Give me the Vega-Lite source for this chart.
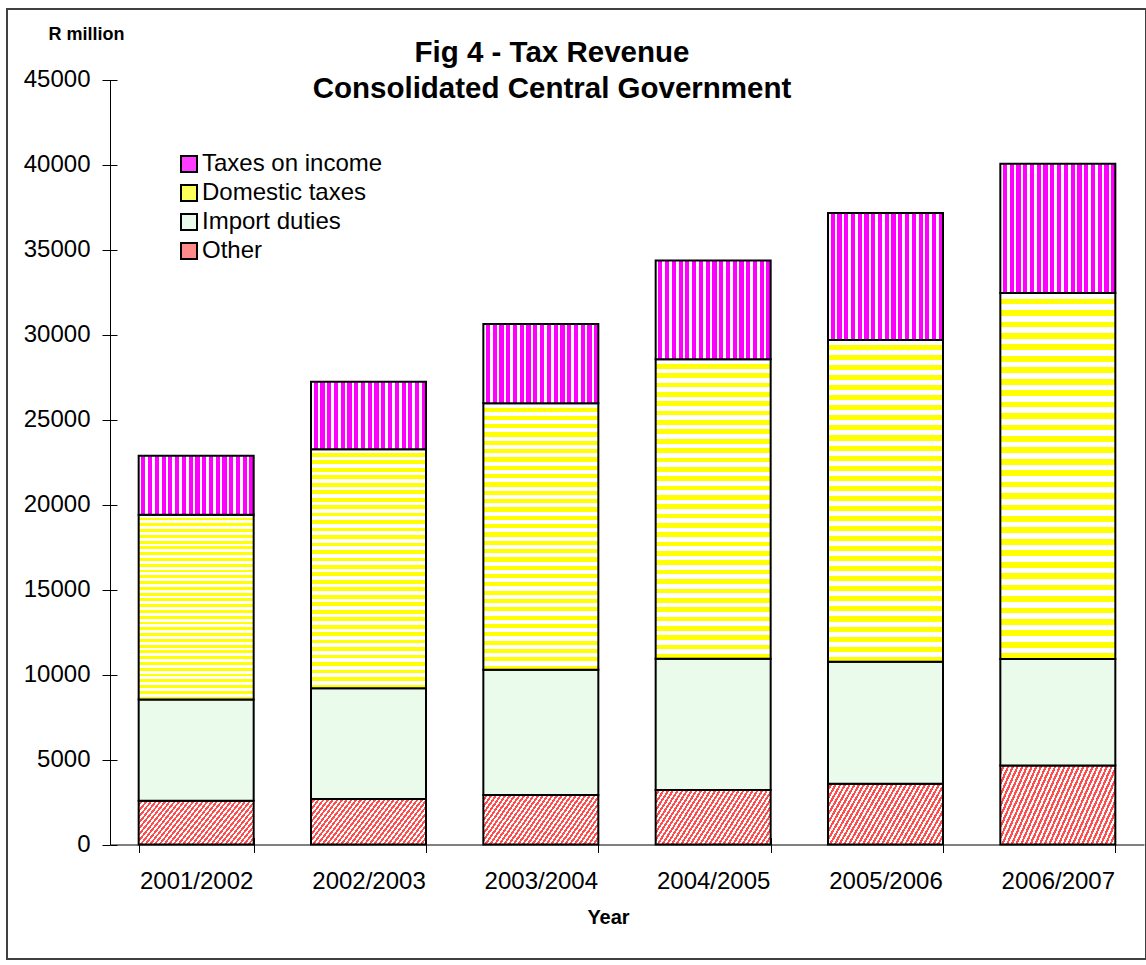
{
  "$schema": "https://vega.github.io/schema/vega-lite/v6.json",
  "autosize": {"type": "none"},
  "padding": {"left": 7, "top": 9, "right": 0, "bottom": 6},
  "width": 1139,
  "height": 950,
  "background": "white",
  "config": {
    "font": "Liberation Sans",
    "view": {"stroke": "#404040", "strokeWidth": 2}
  },
  "title": {
    "text": ["Fig 4 - Tax Revenue", "Consolidated Central Government"],
    "fontSize": 29.5,
    "fontWeight": "bold",
    "font": "Liberation Sans",
    "color": "black",
    "lineHeight": 36,
    "anchor": "middle",
    "frame": "group",
    "dx": -24.5,
    "offset": -95
  },
  "data": {
    "values": [
      {"year": "2001/2002", "type": "Other", "value": 2570},
      {"year": "2001/2002", "type": "Import duties", "value": 5960},
      {"year": "2001/2002", "type": "Domestic taxes", "value": 10870},
      {"year": "2001/2002", "type": "Taxes on income", "value": 3470},
      {"year": "2002/2003", "type": "Other", "value": 2680},
      {"year": "2002/2003", "type": "Import duties", "value": 6510},
      {"year": "2002/2003", "type": "Domestic taxes", "value": 14060},
      {"year": "2002/2003", "type": "Taxes on income", "value": 3970},
      {"year": "2003/2004", "type": "Other", "value": 2910},
      {"year": "2003/2004", "type": "Import duties", "value": 7370},
      {"year": "2003/2004", "type": "Domestic taxes", "value": 15670},
      {"year": "2003/2004", "type": "Taxes on income", "value": 4670},
      {"year": "2004/2005", "type": "Other", "value": 3210},
      {"year": "2004/2005", "type": "Import duties", "value": 7720},
      {"year": "2004/2005", "type": "Domestic taxes", "value": 17610},
      {"year": "2004/2005", "type": "Taxes on income", "value": 5820},
      {"year": "2005/2006", "type": "Other", "value": 3580},
      {"year": "2005/2006", "type": "Import duties", "value": 7170},
      {"year": "2005/2006", "type": "Domestic taxes", "value": 18930},
      {"year": "2005/2006", "type": "Taxes on income", "value": 7470},
      {"year": "2006/2007", "type": "Other", "value": 4640},
      {"year": "2006/2007", "type": "Import duties", "value": 6270},
      {"year": "2006/2007", "type": "Domestic taxes", "value": 21530},
      {"year": "2006/2007", "type": "Taxes on income", "value": 7610}
    ]
  },
  "transform": [
    {"calculate": "indexof(['Other', 'Import duties', 'Domestic taxes', 'Taxes on income'], datum.type)", "as": "stackOrder"}
  ],
  "resolve": {"axis": {"x": "independent", "y": "independent"}},
  "layer": [
    {
      "mark": {"type": "bar", "stroke": "black", "strokeWidth": 2},
      "encoding": {
        "x": {
          "field": "year",
          "type": "nominal",
          "sort": null,
          "scale": {"range": [103, 1137], "paddingInner": 0.3327, "paddingOuter": 0.1664},
          "axis": {
            "orient": "bottom",
            "offset": -114.5,
            "tickBand": "extent",
            "tickSize": 8,
            "tickColor": "black",
            "domainColor": "black",
            "labelAngle": 0,
            "labelFontSize": 24,
            "labelColor": "black",
            "labelPadding": 17,
            "title": "Year",
            "titleX": 601,
            "titleY": 72.5,
            "titleAlign": "center",
            "titleBaseline": "middle",
            "titleFontSize": 20,
            "titleFontWeight": "bold",
            "titleColor": "black"
          }
        },
        "y": {
          "field": "value",
          "type": "quantitative",
          "stack": "zero",
          "scale": {"domain": [0, 45000], "range": [835.5, 70.5], "nice": false},
          "axis": {
            "orient": "left",
            "offset": -103,
            "values": [0, 5000, 10000, 15000, 20000, 25000, 30000, 35000, 40000, 45000],
            "format": "d",
            "grid": false,
            "tickSize": 8,
            "tickColor": "black",
            "domainColor": "black",
            "labelFontSize": 24,
            "labelColor": "black",
            "labelPadding": 12,
            "title": "R million",
            "titleAngle": 0,
            "titleX": -24,
            "titleY": 25,
            "titleAlign": "center",
            "titleBaseline": "middle",
            "titleFontSize": 18,
            "titleFontWeight": "bold",
            "titleColor": "black"
          }
        },
        "order": {"field": "stackOrder", "type": "quantitative", "sort": "ascending"},
        "fill": {
          "field": "type",
          "type": "nominal",
          "sort": ["Other", "Import duties", "Domestic taxes", "Taxes on income"],
          "scale": {
            "domain": ["Other", "Import duties", "Domestic taxes", "Taxes on income"],
            "range": ["#ff8a8a", "#ebfbeb", "#ffff5a", "#ff3dff"]
          },
          "legend": {
            "title": null,
            "values": ["Taxes on income", "Domestic taxes", "Import duties", "Other"],
            "orient": "none",
            "legendX": 170,
            "legendY": 143,
            "padding": 0,
            "symbolType": "square",
            "symbolSize": 256,
            "symbolStrokeColor": "black",
            "symbolStrokeWidth": 2,
            "labelFontSize": 24,
            "labelColor": "black",
            "labelOffset": 1,
            "labelLimit": 500,
            "rowPadding": 5
          },
          "condition": [
            {
              "test": "datum.type === 'Taxes on income'",
              "value": {
                "gradient": "linear", "x1": 0, "y1": 0, "x2": 1, "y2": 0,
                "stops": [
                  {"offset": 0, "color": "#ffffff"}, {"offset": 0.0224, "color": "#ffffff"}, {"offset": 0.0224, "color": "#ff00ff"}, {"offset": 0.0588, "color": "#ff00ff"},
                  {"offset": 0.0588, "color": "#ffffff"}, {"offset": 0.0812, "color": "#ffffff"}, {"offset": 0.0812, "color": "#ff00ff"}, {"offset": 0.1176, "color": "#ff00ff"},
                  {"offset": 0.1176, "color": "#ffffff"}, {"offset": 0.1400, "color": "#ffffff"}, {"offset": 0.1400, "color": "#ff00ff"}, {"offset": 0.1765, "color": "#ff00ff"},
                  {"offset": 0.1765, "color": "#ffffff"}, {"offset": 0.1988, "color": "#ffffff"}, {"offset": 0.1988, "color": "#ff00ff"}, {"offset": 0.2353, "color": "#ff00ff"},
                  {"offset": 0.2353, "color": "#ffffff"}, {"offset": 0.2576, "color": "#ffffff"}, {"offset": 0.2576, "color": "#ff00ff"}, {"offset": 0.2941, "color": "#ff00ff"},
                  {"offset": 0.2941, "color": "#ffffff"}, {"offset": 0.3165, "color": "#ffffff"}, {"offset": 0.3165, "color": "#ff00ff"}, {"offset": 0.3529, "color": "#ff00ff"},
                  {"offset": 0.3529, "color": "#ffffff"}, {"offset": 0.3753, "color": "#ffffff"}, {"offset": 0.3753, "color": "#ff00ff"}, {"offset": 0.4118, "color": "#ff00ff"},
                  {"offset": 0.4118, "color": "#ffffff"}, {"offset": 0.4341, "color": "#ffffff"}, {"offset": 0.4341, "color": "#ff00ff"}, {"offset": 0.4706, "color": "#ff00ff"},
                  {"offset": 0.4706, "color": "#ffffff"}, {"offset": 0.4929, "color": "#ffffff"}, {"offset": 0.4929, "color": "#ff00ff"}, {"offset": 0.5294, "color": "#ff00ff"},
                  {"offset": 0.5294, "color": "#ffffff"}, {"offset": 0.5518, "color": "#ffffff"}, {"offset": 0.5518, "color": "#ff00ff"}, {"offset": 0.5882, "color": "#ff00ff"},
                  {"offset": 0.5882, "color": "#ffffff"}, {"offset": 0.6106, "color": "#ffffff"}, {"offset": 0.6106, "color": "#ff00ff"}, {"offset": 0.6471, "color": "#ff00ff"},
                  {"offset": 0.6471, "color": "#ffffff"}, {"offset": 0.6694, "color": "#ffffff"}, {"offset": 0.6694, "color": "#ff00ff"}, {"offset": 0.7059, "color": "#ff00ff"},
                  {"offset": 0.7059, "color": "#ffffff"}, {"offset": 0.7282, "color": "#ffffff"}, {"offset": 0.7282, "color": "#ff00ff"}, {"offset": 0.7647, "color": "#ff00ff"},
                  {"offset": 0.7647, "color": "#ffffff"}, {"offset": 0.7871, "color": "#ffffff"}, {"offset": 0.7871, "color": "#ff00ff"}, {"offset": 0.8235, "color": "#ff00ff"},
                  {"offset": 0.8235, "color": "#ffffff"}, {"offset": 0.8459, "color": "#ffffff"}, {"offset": 0.8459, "color": "#ff00ff"}, {"offset": 0.8824, "color": "#ff00ff"},
                  {"offset": 0.8824, "color": "#ffffff"}, {"offset": 0.9047, "color": "#ffffff"}, {"offset": 0.9047, "color": "#ff00ff"}, {"offset": 0.9412, "color": "#ff00ff"},
                  {"offset": 0.9412, "color": "#ffffff"}, {"offset": 0.9635, "color": "#ffffff"}, {"offset": 0.9635, "color": "#ff00ff"}, {"offset": 1, "color": "#ff00ff"}
                ]
              }
            },
            {
              "test": "datum.type === 'Domestic taxes'",
              "value": {
                "gradient": "linear", "x1": 0, "y1": 0, "x2": 0, "y2": 1,
                "stops": [
                  {"offset": 0, "color": "#ffffff"}, {"offset": 0.015625, "color": "#ffffff"}, {"offset": 0.015625, "color": "#ffff00"},
                  {"offset": 0.03125, "color": "#ffff00"}, {"offset": 0.03125, "color": "#ffffff"}, {"offset": 0.046875, "color": "#ffffff"}, {"offset": 0.046875, "color": "#ffff00"},
                  {"offset": 0.0625, "color": "#ffff00"}, {"offset": 0.0625, "color": "#ffffff"}, {"offset": 0.078125, "color": "#ffffff"}, {"offset": 0.078125, "color": "#ffff00"},
                  {"offset": 0.09375, "color": "#ffff00"}, {"offset": 0.09375, "color": "#ffffff"}, {"offset": 0.109375, "color": "#ffffff"}, {"offset": 0.109375, "color": "#ffff00"},
                  {"offset": 0.125, "color": "#ffff00"}, {"offset": 0.125, "color": "#ffffff"}, {"offset": 0.140625, "color": "#ffffff"}, {"offset": 0.140625, "color": "#ffff00"},
                  {"offset": 0.15625, "color": "#ffff00"}, {"offset": 0.15625, "color": "#ffffff"}, {"offset": 0.171875, "color": "#ffffff"}, {"offset": 0.171875, "color": "#ffff00"},
                  {"offset": 0.1875, "color": "#ffff00"}, {"offset": 0.1875, "color": "#ffffff"}, {"offset": 0.203125, "color": "#ffffff"}, {"offset": 0.203125, "color": "#ffff00"},
                  {"offset": 0.21875, "color": "#ffff00"}, {"offset": 0.21875, "color": "#ffffff"}, {"offset": 0.234375, "color": "#ffffff"}, {"offset": 0.234375, "color": "#ffff00"},
                  {"offset": 0.25, "color": "#ffff00"}, {"offset": 0.25, "color": "#ffffff"}, {"offset": 0.265625, "color": "#ffffff"}, {"offset": 0.265625, "color": "#ffff00"},
                  {"offset": 0.28125, "color": "#ffff00"}, {"offset": 0.28125, "color": "#ffffff"}, {"offset": 0.296875, "color": "#ffffff"}, {"offset": 0.296875, "color": "#ffff00"},
                  {"offset": 0.3125, "color": "#ffff00"}, {"offset": 0.3125, "color": "#ffffff"}, {"offset": 0.328125, "color": "#ffffff"}, {"offset": 0.328125, "color": "#ffff00"},
                  {"offset": 0.34375, "color": "#ffff00"}, {"offset": 0.34375, "color": "#ffffff"}, {"offset": 0.359375, "color": "#ffffff"}, {"offset": 0.359375, "color": "#ffff00"},
                  {"offset": 0.375, "color": "#ffff00"}, {"offset": 0.375, "color": "#ffffff"}, {"offset": 0.390625, "color": "#ffffff"}, {"offset": 0.390625, "color": "#ffff00"},
                  {"offset": 0.40625, "color": "#ffff00"}, {"offset": 0.40625, "color": "#ffffff"}, {"offset": 0.421875, "color": "#ffffff"}, {"offset": 0.421875, "color": "#ffff00"},
                  {"offset": 0.4375, "color": "#ffff00"}, {"offset": 0.4375, "color": "#ffffff"}, {"offset": 0.453125, "color": "#ffffff"}, {"offset": 0.453125, "color": "#ffff00"},
                  {"offset": 0.46875, "color": "#ffff00"}, {"offset": 0.46875, "color": "#ffffff"}, {"offset": 0.484375, "color": "#ffffff"}, {"offset": 0.484375, "color": "#ffff00"},
                  {"offset": 0.5, "color": "#ffff00"}, {"offset": 0.5, "color": "#ffffff"}, {"offset": 0.515625, "color": "#ffffff"}, {"offset": 0.515625, "color": "#ffff00"},
                  {"offset": 0.53125, "color": "#ffff00"}, {"offset": 0.53125, "color": "#ffffff"}, {"offset": 0.546875, "color": "#ffffff"}, {"offset": 0.546875, "color": "#ffff00"},
                  {"offset": 0.5625, "color": "#ffff00"}, {"offset": 0.5625, "color": "#ffffff"}, {"offset": 0.578125, "color": "#ffffff"}, {"offset": 0.578125, "color": "#ffff00"},
                  {"offset": 0.59375, "color": "#ffff00"}, {"offset": 0.59375, "color": "#ffffff"}, {"offset": 0.609375, "color": "#ffffff"}, {"offset": 0.609375, "color": "#ffff00"},
                  {"offset": 0.625, "color": "#ffff00"}, {"offset": 0.625, "color": "#ffffff"}, {"offset": 0.640625, "color": "#ffffff"}, {"offset": 0.640625, "color": "#ffff00"},
                  {"offset": 0.65625, "color": "#ffff00"}, {"offset": 0.65625, "color": "#ffffff"}, {"offset": 0.671875, "color": "#ffffff"}, {"offset": 0.671875, "color": "#ffff00"},
                  {"offset": 0.6875, "color": "#ffff00"}, {"offset": 0.6875, "color": "#ffffff"}, {"offset": 0.703125, "color": "#ffffff"}, {"offset": 0.703125, "color": "#ffff00"},
                  {"offset": 0.71875, "color": "#ffff00"}, {"offset": 0.71875, "color": "#ffffff"}, {"offset": 0.734375, "color": "#ffffff"}, {"offset": 0.734375, "color": "#ffff00"},
                  {"offset": 0.75, "color": "#ffff00"}, {"offset": 0.75, "color": "#ffffff"}, {"offset": 0.765625, "color": "#ffffff"}, {"offset": 0.765625, "color": "#ffff00"},
                  {"offset": 0.78125, "color": "#ffff00"}, {"offset": 0.78125, "color": "#ffffff"}, {"offset": 0.796875, "color": "#ffffff"}, {"offset": 0.796875, "color": "#ffff00"},
                  {"offset": 0.8125, "color": "#ffff00"}, {"offset": 0.8125, "color": "#ffffff"}, {"offset": 0.828125, "color": "#ffffff"}, {"offset": 0.828125, "color": "#ffff00"},
                  {"offset": 0.84375, "color": "#ffff00"}, {"offset": 0.84375, "color": "#ffffff"}, {"offset": 0.859375, "color": "#ffffff"}, {"offset": 0.859375, "color": "#ffff00"},
                  {"offset": 0.875, "color": "#ffff00"}, {"offset": 0.875, "color": "#ffffff"}, {"offset": 0.890625, "color": "#ffffff"}, {"offset": 0.890625, "color": "#ffff00"},
                  {"offset": 0.90625, "color": "#ffff00"}, {"offset": 0.90625, "color": "#ffffff"}, {"offset": 0.921875, "color": "#ffffff"}, {"offset": 0.921875, "color": "#ffff00"},
                  {"offset": 0.9375, "color": "#ffff00"}, {"offset": 0.9375, "color": "#ffffff"}, {"offset": 0.953125, "color": "#ffffff"}, {"offset": 0.953125, "color": "#ffff00"},
                  {"offset": 0.96875, "color": "#ffff00"}, {"offset": 0.96875, "color": "#ffffff"}, {"offset": 0.984375, "color": "#ffffff"}, {"offset": 0.984375, "color": "#ffff00"},
                  {"offset": 1, "color": "#ffff00"}
                ]
              }
            },
            {
              "test": "datum.type === 'Other'",
              "value": {
                "gradient": "linear", "x1": 0, "y1": 0, "x2": 1.2, "y2": 0.36,
                "stops": [
                  {"offset": 0, "color": "#ffffff"}, {"offset": 0.015625, "color": "#ffffff"}, {"offset": 0.015625, "color": "#ff4d4d"},
                  {"offset": 0.03125, "color": "#ff4d4d"}, {"offset": 0.03125, "color": "#ffffff"}, {"offset": 0.046875, "color": "#ffffff"}, {"offset": 0.046875, "color": "#ff4d4d"},
                  {"offset": 0.0625, "color": "#ff4d4d"}, {"offset": 0.0625, "color": "#ffffff"}, {"offset": 0.078125, "color": "#ffffff"}, {"offset": 0.078125, "color": "#ff4d4d"},
                  {"offset": 0.09375, "color": "#ff4d4d"}, {"offset": 0.09375, "color": "#ffffff"}, {"offset": 0.109375, "color": "#ffffff"}, {"offset": 0.109375, "color": "#ff4d4d"},
                  {"offset": 0.125, "color": "#ff4d4d"}, {"offset": 0.125, "color": "#ffffff"}, {"offset": 0.140625, "color": "#ffffff"}, {"offset": 0.140625, "color": "#ff4d4d"},
                  {"offset": 0.15625, "color": "#ff4d4d"}, {"offset": 0.15625, "color": "#ffffff"}, {"offset": 0.171875, "color": "#ffffff"}, {"offset": 0.171875, "color": "#ff4d4d"},
                  {"offset": 0.1875, "color": "#ff4d4d"}, {"offset": 0.1875, "color": "#ffffff"}, {"offset": 0.203125, "color": "#ffffff"}, {"offset": 0.203125, "color": "#ff4d4d"},
                  {"offset": 0.21875, "color": "#ff4d4d"}, {"offset": 0.21875, "color": "#ffffff"}, {"offset": 0.234375, "color": "#ffffff"}, {"offset": 0.234375, "color": "#ff4d4d"},
                  {"offset": 0.25, "color": "#ff4d4d"}, {"offset": 0.25, "color": "#ffffff"}, {"offset": 0.265625, "color": "#ffffff"}, {"offset": 0.265625, "color": "#ff4d4d"},
                  {"offset": 0.28125, "color": "#ff4d4d"}, {"offset": 0.28125, "color": "#ffffff"}, {"offset": 0.296875, "color": "#ffffff"}, {"offset": 0.296875, "color": "#ff4d4d"},
                  {"offset": 0.3125, "color": "#ff4d4d"}, {"offset": 0.3125, "color": "#ffffff"}, {"offset": 0.328125, "color": "#ffffff"}, {"offset": 0.328125, "color": "#ff4d4d"},
                  {"offset": 0.34375, "color": "#ff4d4d"}, {"offset": 0.34375, "color": "#ffffff"}, {"offset": 0.359375, "color": "#ffffff"}, {"offset": 0.359375, "color": "#ff4d4d"},
                  {"offset": 0.375, "color": "#ff4d4d"}, {"offset": 0.375, "color": "#ffffff"}, {"offset": 0.390625, "color": "#ffffff"}, {"offset": 0.390625, "color": "#ff4d4d"},
                  {"offset": 0.40625, "color": "#ff4d4d"}, {"offset": 0.40625, "color": "#ffffff"}, {"offset": 0.421875, "color": "#ffffff"}, {"offset": 0.421875, "color": "#ff4d4d"},
                  {"offset": 0.4375, "color": "#ff4d4d"}, {"offset": 0.4375, "color": "#ffffff"}, {"offset": 0.453125, "color": "#ffffff"}, {"offset": 0.453125, "color": "#ff4d4d"},
                  {"offset": 0.46875, "color": "#ff4d4d"}, {"offset": 0.46875, "color": "#ffffff"}, {"offset": 0.484375, "color": "#ffffff"}, {"offset": 0.484375, "color": "#ff4d4d"},
                  {"offset": 0.5, "color": "#ff4d4d"}, {"offset": 0.5, "color": "#ffffff"}, {"offset": 0.515625, "color": "#ffffff"}, {"offset": 0.515625, "color": "#ff4d4d"},
                  {"offset": 0.53125, "color": "#ff4d4d"}, {"offset": 0.53125, "color": "#ffffff"}, {"offset": 0.546875, "color": "#ffffff"}, {"offset": 0.546875, "color": "#ff4d4d"},
                  {"offset": 0.5625, "color": "#ff4d4d"}, {"offset": 0.5625, "color": "#ffffff"}, {"offset": 0.578125, "color": "#ffffff"}, {"offset": 0.578125, "color": "#ff4d4d"},
                  {"offset": 0.59375, "color": "#ff4d4d"}, {"offset": 0.59375, "color": "#ffffff"}, {"offset": 0.609375, "color": "#ffffff"}, {"offset": 0.609375, "color": "#ff4d4d"},
                  {"offset": 0.625, "color": "#ff4d4d"}, {"offset": 0.625, "color": "#ffffff"}, {"offset": 0.640625, "color": "#ffffff"}, {"offset": 0.640625, "color": "#ff4d4d"},
                  {"offset": 0.65625, "color": "#ff4d4d"}, {"offset": 0.65625, "color": "#ffffff"}, {"offset": 0.671875, "color": "#ffffff"}, {"offset": 0.671875, "color": "#ff4d4d"},
                  {"offset": 0.6875, "color": "#ff4d4d"}, {"offset": 0.6875, "color": "#ffffff"}, {"offset": 0.703125, "color": "#ffffff"}, {"offset": 0.703125, "color": "#ff4d4d"},
                  {"offset": 0.71875, "color": "#ff4d4d"}, {"offset": 0.71875, "color": "#ffffff"}, {"offset": 0.734375, "color": "#ffffff"}, {"offset": 0.734375, "color": "#ff4d4d"},
                  {"offset": 0.75, "color": "#ff4d4d"}, {"offset": 0.75, "color": "#ffffff"}, {"offset": 0.765625, "color": "#ffffff"}, {"offset": 0.765625, "color": "#ff4d4d"},
                  {"offset": 0.78125, "color": "#ff4d4d"}, {"offset": 0.78125, "color": "#ffffff"}, {"offset": 0.796875, "color": "#ffffff"}, {"offset": 0.796875, "color": "#ff4d4d"},
                  {"offset": 0.8125, "color": "#ff4d4d"}, {"offset": 0.8125, "color": "#ffffff"}, {"offset": 0.828125, "color": "#ffffff"}, {"offset": 0.828125, "color": "#ff4d4d"},
                  {"offset": 0.84375, "color": "#ff4d4d"}, {"offset": 0.84375, "color": "#ffffff"}, {"offset": 0.859375, "color": "#ffffff"}, {"offset": 0.859375, "color": "#ff4d4d"},
                  {"offset": 0.875, "color": "#ff4d4d"}, {"offset": 0.875, "color": "#ffffff"}, {"offset": 0.890625, "color": "#ffffff"}, {"offset": 0.890625, "color": "#ff4d4d"},
                  {"offset": 0.90625, "color": "#ff4d4d"}, {"offset": 0.90625, "color": "#ffffff"}, {"offset": 0.921875, "color": "#ffffff"}, {"offset": 0.921875, "color": "#ff4d4d"},
                  {"offset": 0.9375, "color": "#ff4d4d"}, {"offset": 0.9375, "color": "#ffffff"}, {"offset": 0.953125, "color": "#ffffff"}, {"offset": 0.953125, "color": "#ff4d4d"},
                  {"offset": 0.96875, "color": "#ff4d4d"}, {"offset": 0.96875, "color": "#ffffff"}, {"offset": 0.984375, "color": "#ffffff"}, {"offset": 0.984375, "color": "#ff4d4d"},
                  {"offset": 1, "color": "#ff4d4d"}
                ]
              }
            }
          ]
        }
      }
    },
    {
      "mark": {"type": "point", "opacity": 0},
      "encoding": {
        "x": {
          "field": "year",
          "type": "nominal",
          "sort": null,
          "axis": {
            "orient": "top",
            "offset": -835.5,
            "tickBand": "extent",
            "tickSize": 7,
            "tickColor": "black",
            "labels": false,
            "domain": false,
            "title": null
          }
        },
        "y": {
          "field": "value",
          "type": "quantitative",
          "axis": {
            "orient": "right",
            "offset": -1036,
            "values": [0, 5000, 10000, 15000, 20000, 25000, 30000, 35000, 40000, 45000],
            "grid": false,
            "tickSize": 7,
            "tickColor": "black",
            "labels": false,
            "domain": false,
            "title": null
          }
        }
      }
    }
  ]
}
